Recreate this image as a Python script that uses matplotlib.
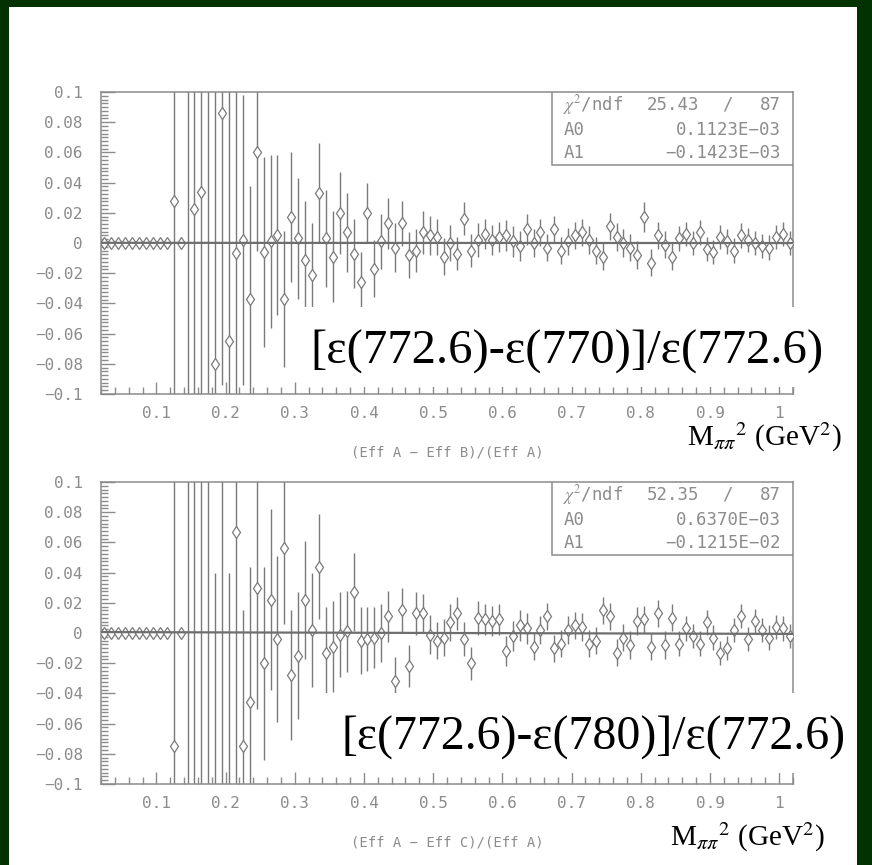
import numpy as np
import matplotlib
matplotlib.use("Agg")
import matplotlib.pyplot as plt
from matplotlib.patches import Rectangle
from matplotlib.ticker import MultipleLocator, FuncFormatter

# ─── DATA ──────────────────────────────────────────────────────────────────────
# 100 bins of width 0.01 in M_pipi^2 from 0.02 to 1.02
BIN_EDGES = np.linspace(0.02, 1.02, 101)
BIN_CENTERS = 0.5 * (BIN_EDGES[:-1] + BIN_EDGES[1:])

# (Eff A - Eff B)/(Eff A)
RATIO_B = [
    0, 0, 0, 0, 0, 0, 0, 0, 0, 0,
    0.028, 0.0, -0.13, 0.0225, 0.034, 0.13, -0.080, 0.086, -0.065, -0.0066,
    0.002, -0.037, 0.060, -0.006, 0.001, 0.005, -0.037, 0.017, 0.003, -0.011,
    -0.021, 0.033, 0.003, -0.009, 0.020, 0.007, -0.007, -0.026, 0.020, -0.017,
    0.001, 0.013, -0.003, 0.013, -0.008, -0.005, 0.007, 0.005,
    0.004, -0.009, 0.000, -0.007, 0.016, -0.005, 0.002, 0.006, 0.002, 0.004,
    0.005, 0.001, -0.002, 0.009, 0.000, 0.007, -0.003, 0.009, -0.005, 0.001,
    0.005, 0.007, 0.002, -0.005, -0.009, 0.011, 0.004, 0.000, -0.003, -0.008,
    0.017, -0.013, 0.005, -0.001, -0.009, 0.003, 0.006, 0.000, 0.007, -0.004,
    -0.006, 0.004, 0.001, -0.005, 0.005, 0.002, 0.000, -0.002, -0.003, 0.004,
    0.006, 0.000,
]
ERR_B = [
    0, 0, 0, 0, 0, 0, 0, 0, 0, 0,
    0.20, 0.0, 0.30, 0.25, 0.20, 0.25, 0.20, 0.18, 0.17, 0.12,
    0.096, 0.075, 0.065, 0.063, 0.057, 0.053, 0.045, 0.043, 0.040, 0.039,
    0.034, 0.033, 0.032, 0.030, 0.027, 0.026, 0.023, 0.020, 0.020, 0.019,
    0.018, 0.017, 0.016, 0.015, 0.015, 0.014, 0.014, 0.013,
    0.012, 0.012, 0.012, 0.011, 0.011, 0.011, 0.011, 0.010, 0.010, 0.010,
    0.010, 0.010, 0.010, 0.010, 0.009, 0.009, 0.009, 0.009, 0.009, 0.009,
    0.009, 0.009, 0.009, 0.009, 0.009, 0.009, 0.009, 0.009, 0.009, 0.009,
    0.010, 0.009, 0.009, 0.009, 0.009, 0.008, 0.008, 0.008, 0.008, 0.008,
    0.008, 0.008, 0.008, 0.008, 0.008, 0.008, 0.008, 0.008, 0.008, 0.008,
    0.008, 0.008,
]

# (Eff A - Eff C)/(Eff A)
RATIO_C = [
    0, 0, 0, 0, 0, 0, 0, 0, 0, 0,
    -0.075, 0.0, 0.12, -0.12, 0.11, -0.13, -0.11, 0.12, -0.11, 0.067,
    -0.075, -0.046, 0.030, -0.020, 0.022, -0.004, 0.056, -0.028, -0.015, 0.022,
    0.002, 0.044, -0.013, -0.009, -0.001, 0.001, 0.027, -0.005, -0.004, -0.003,
    0.000, 0.011, -0.032, 0.015, -0.022, 0.013, 0.013, -0.001,
    -0.005, -0.003, 0.007, 0.013, -0.004, -0.020, 0.010, 0.009, 0.008, 0.009,
    -0.012, -0.002, 0.005, 0.003, -0.009, 0.002, 0.011, -0.010, -0.007, 0.002,
    0.005, 0.004, -0.007, -0.005, 0.015, 0.011, -0.013, -0.003, -0.008, 0.008,
    0.009, -0.009, 0.013, -0.008, 0.010, -0.007, 0.003, -0.002, -0.007, 0.007,
    -0.003, -0.013, -0.010, 0.002, 0.011, -0.004, 0.008, 0.002, -0.003, 0.004,
    0.003, -0.002,
]
ERR_C = [
    0, 0, 0, 0, 0, 0, 0, 0, 0, 0,
    0.25, 0.0, 0.30, 0.25, 0.25, 0.25, 0.15, 0.25, 0.15, 0.20,
    0.090, 0.090, 0.080, 0.064, 0.060, 0.055, 0.050, 0.043, 0.042, 0.039,
    0.038, 0.035, 0.030, 0.030, 0.028, 0.027, 0.026, 0.022, 0.021, 0.020,
    0.019, 0.017, 0.016, 0.015, 0.014, 0.014, 0.013, 0.013,
    0.012, 0.012, 0.012, 0.011, 0.011, 0.011, 0.011, 0.010, 0.010, 0.010,
    0.010, 0.010, 0.010, 0.010, 0.009, 0.009, 0.009, 0.009, 0.009, 0.009,
    0.009, 0.009, 0.009, 0.009, 0.009, 0.009, 0.009, 0.009, 0.009, 0.009,
    0.009, 0.009, 0.009, 0.009, 0.009, 0.008, 0.008, 0.008, 0.008, 0.008,
    0.008, 0.008, 0.008, 0.008, 0.008, 0.008, 0.008, 0.008, 0.008, 0.008,
    0.008, 0.008,
]

# fit results (pol1) shown in the stats boxes
FIT_B = {"chi2": "25.43", "ndf": "87", "A0": 0.1123e-03, "A1": -0.1423e-03,
         "A0_txt": "0.1123E\u221203", "A1_txt": "\u22120.1423E\u221203"}
FIT_C = {"chi2": "52.35", "ndf": "87", "A0": 0.6370e-03, "A1": -0.1215e-02,
         "A0_txt": "0.6370E\u221203", "A1_txt": "\u22120.1215E\u221202"}

TITLE_B = "(Eff A \u2212 Eff B)/(Eff A)"
TITLE_C = "(Eff A \u2212 Eff C)/(Eff A)"
NOTE_B = "[\u03b5(772.6)-\u03b5(770)]/\u03b5(772.6)"
NOTE_C = "[\u03b5(772.6)-\u03b5(780)]/\u03b5(772.6)"
XLABEL = r"M$_{\pi\pi}$$^2$ (GeV$^2$)"

# ─── STYLE ─────────────────────────────────────────────────────────────────────
W, H = 872, 865
GRAY = "#8c8c8c"
DARK = "#7a7a7a"
GREEN = "#023102"
MONO = "DejaVu Sans Mono"
plt.rcParams["mathtext.fontset"] = "stix"


def fx(px):
    return px / W


def fy(py):
    return 1 - py / H


def y_fmt(v, pos):
    v = round(v, 3)
    if v == 0:
        return "0"
    return f"{v:g}".replace("-", "\u2212")


def draw_panel(ax, ratio, err, fit):
    ax.set_xlim(0.02, 1.02)
    ax.set_ylim(-0.1, 0.1)

    ax.errorbar(BIN_CENTERS, ratio, yerr=err, fmt="none", ecolor=DARK,
                elinewidth=1.0, capsize=0, zorder=2)
    ax.plot(BIN_CENTERS, ratio, linestyle="none", marker="d", markersize=6.5,
            markerfacecolor="white", markeredgecolor=DARK, markeredgewidth=0.9,
            zorder=3)
    xs = np.array([0.02, 1.02])
    ax.plot(xs, fit["A0"] + fit["A1"] * xs, color="#6e6e6e", lw=1.6, zorder=4)

    for side in ["left", "bottom", "right", "top"]:
        ax.spines[side].set_color(GRAY)
        ax.spines[side].set_linewidth(1.1)

    ax.xaxis.set_major_locator(MultipleLocator(0.1))
    ax.xaxis.set_minor_locator(MultipleLocator(0.02))
    ax.yaxis.set_major_locator(MultipleLocator(0.02))
    ax.yaxis.set_minor_locator(MultipleLocator(0.0025))
    ax.xaxis.set_major_formatter(FuncFormatter(lambda v, p: f"{round(v, 2):g}"))
    ax.yaxis.set_major_formatter(FuncFormatter(y_fmt))
    ax.tick_params(axis="both", which="both", direction="in", color=GRAY,
                   labelcolor=GRAY, labelsize=11.5, width=1.0,
                   top=False, right=False)
    ax.tick_params(axis="x", which="major", length=9, pad=9)
    ax.tick_params(axis="x", which="minor", length=5)
    ax.tick_params(axis="y", which="major", length=10, pad=13)
    ax.tick_params(axis="y", which="minor", length=5)
    for lab in ax.get_xticklabels() + ax.get_yticklabels():
        lab.set_family(MONO)

    # stats box
    ax.add_patch(Rectangle((0.652, 0.758), 0.348, 0.242, transform=ax.transAxes,
                           facecolor="white", edgecolor=GRAY, lw=1.1, zorder=6))
    kw = dict(transform=ax.transAxes, color=GRAY, fontsize=12.5, va="center",
              family=MONO, zorder=7)
    ax.text(0.668, 0.957, r"$\chi^2$/ndf", **kw)
    ax.text(0.827, 0.957, fit["chi2"], ha="center", **kw)
    ax.text(0.905, 0.957, "/", ha="center", **kw)
    ax.text(0.983, 0.957, fit["ndf"], ha="right", **kw)
    ax.text(0.668, 0.874, "A0", **kw)
    ax.text(0.983, 0.874, fit["A0_txt"], ha="right", **kw)
    ax.text(0.668, 0.798, "A1", **kw)
    ax.text(0.983, 0.798, fit["A1_txt"], ha="right", **kw)


fig = plt.figure(figsize=(W / 100, H / 100), dpi=100)
fig.patch.set_facecolor(GREEN)
fig.patches.append(Rectangle((fx(9), 0), fx(857 - 9), 1 - 7 / H,
                             transform=fig.transFigure, facecolor="white",
                             edgecolor="none", zorder=-10))

ax_b = fig.add_axes([fx(101), fy(394), fx(793 - 101), (394 - 92) / H])
ax_c = fig.add_axes([fx(101), fy(784), fx(793 - 101), (784 - 482) / H])
for ax in (ax_b, ax_c):
    ax.set_facecolor("white")
draw_panel(ax_b, RATIO_B, ERR_B, FIT_B)
draw_panel(ax_c, RATIO_C, ERR_C, FIT_C)

# white boxes that hide part of the plots under the big labels
for (x0, y0, x1, y1) in [(303, 307, 857, 387), (323, 693, 857, 773)]:
    fig.patches.append(Rectangle((fx(x0), fy(y1)), fx(x1 - x0), (y1 - y0) / H,
                                 transform=fig.transFigure, facecolor="white",
                                 edgecolor="none", zorder=5))

serif = ["Liberation Serif", "DejaVu Serif"]
fig.text(fx(310), fy(352), NOTE_B, family=serif, fontsize=35, ha="left",
         va="center", zorder=10)
fig.text(fx(341), fy(738), NOTE_C, family=serif, fontsize=34.5, ha="left",
         va="center", zorder=10)
fig.text(fx(687), fy(437), XLABEL, family=serif, fontsize=21, ha="left",
         va="center", zorder=10)
fig.text(fx(670), fy(837), XLABEL, family=serif, fontsize=21, ha="left",
         va="center", zorder=10)
fig.text(fx(447), fy(453), TITLE_B, color=GRAY, fontsize=10, family=MONO,
         ha="center", va="center")
fig.text(fx(447), fy(843), TITLE_C, color=GRAY, fontsize=10, family=MONO,
         ha="center", va="center")

fig.savefig("out.png", dpi=100, facecolor=GREEN)
